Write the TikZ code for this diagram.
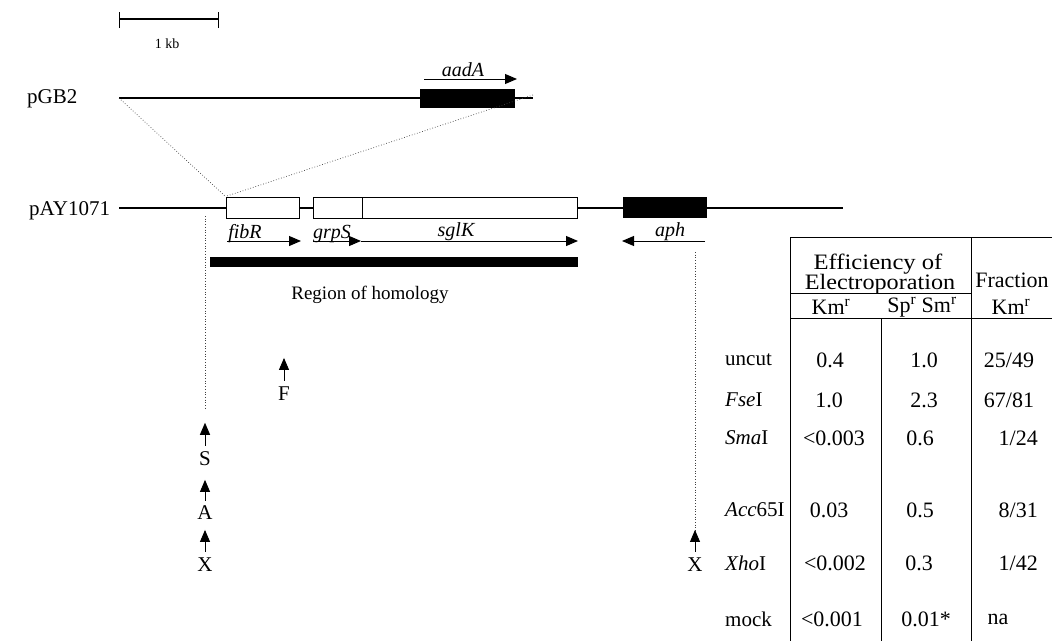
\documentclass[tikz,border=0pt]{standalone}
\usepackage{fontspec}
\usepackage{graphicx}
\setmainfont{Liberation Serif}
\usetikzlibrary{arrows.meta}
\begin{document}
\begin{tikzpicture}[x=1pt,y=-1pt,
  lab/.style={font=\fontsize{21}{21}\selectfont, inner sep=0pt},
  genelab/.style={font=\fontsize{20}{20}\selectfont\itshape, inner sep=0pt, anchor=base},
  tab/.style={font=\fontsize{22}{22}\selectfont, inner sep=0pt},
  rowlab/.style={font=\fontsize{21}{21}\selectfont, inner sep=0pt, anchor=west},
  dna/.style={line width=1.8pt},
  whitebox/.style={draw, fill=white, line width=1pt, inner sep=0pt},
  blackbox/.style={fill=black, inner sep=0pt},
  genearrow/.style={line width=1pt, -{Triangle[length=12pt,width=10pt]}},
  sitearrow/.style={line width=0.9pt, -{Triangle[length=12pt,width=10pt]}},
  dotline/.style={dotted, line width=0.7pt, black!75},
  tabline/.style={line width=0.8pt}
]
\useasboundingbox (0,0) rectangle (1052,641);
\fill[white] (0,0) rectangle (1052,641);

% scale bar
\coordinate (sb1) at (119,19);
\coordinate (sb2) at (218,19);
\draw[line width=1.8pt] (sb1) -- (sb2);
\draw[line width=1pt] ([yshift=-9pt]sb1) -- ([yshift=7pt]sb1);
\draw[line width=1pt] ([yshift=-9pt]sb2) -- ([yshift=7pt]sb2);
\node[font=\fontsize{14}{14}\selectfont, inner sep=0pt] (kb) at (167,44) {1 kb};

% pGB2
\node[lab, anchor=base west] (pgb) at (27,103) {pGB2};
\coordinate (g1) at (119,98);
\coordinate (g2) at (533,98);
\draw[dna] (g1) -- (g2);
\node[blackbox, minimum width=95pt, minimum height=19pt] (aadAbox) at (467.5,98.5) {};
\coordinate (aA1) at (424,79);
\coordinate (aA2) at (517,79);
\draw[genearrow] (aA1) -- (aA2);
\node[genelab] (aadA) at (463,76) {aadA};

% pAY1071
\node[lab, anchor=base west] (pay) at (29,215) {pAY1071};
\coordinate (p1) at (119,208);
\coordinate (p2) at (843,208);
\draw[dna] (p1) -- (p2);
\node[whitebox, minimum width=73pt, minimum height=21pt] (fibRbox) at (262.5,207.5) {};
\node[whitebox, minimum width=49pt, minimum height=21pt] (grpSbox) at (337.5,207.5) {};
\node[whitebox, minimum width=215pt, minimum height=21pt] (sglKbox) at (469.5,207.5) {};
\node[blackbox, minimum width=84pt, minimum height=21pt] (aphbox) at (665,207.5) {};

% insertion dotted lines
\draw[dotline] (g1) -- (fibRbox.north west);
\draw[dotline] ([yshift=3pt]g2) -- (fibRbox.north west);

% gene arrows and labels
\coordinate (fa1) at (227,241); \coordinate (fa2) at (301,241);
\coordinate (ga1) at (313,241); \coordinate (ga2) at (361,241);
\coordinate (sa1) at (361,241); \coordinate (sa2) at (578,241);
\coordinate (ha1) at (705,241); \coordinate (ha2) at (622,241);
\draw[genearrow] (fa1) -- (fa2);
\draw[genearrow] (ga1) -- (ga2);
\draw[genearrow] (sa1) -- (sa2);
\draw[genearrow] (ha1) -- (ha2);
\node[genelab] (fibR) at (245,238) {fibR};
\node[genelab] (grpS) at (332,238) {grpS};
\node[genelab] (sglK) at (456,236) {sglK};
\node[genelab] (aph) at (670,236) {aph};

% region of homology
\node[blackbox, minimum width=368pt, minimum height=10pt] (homol) at (394,262) {};
\node[font=\fontsize{19}{19}\selectfont, inner sep=0pt] (homlab) at (370,295) {Region of homology};

% dotted verticals
\coordinate (dl1) at (205,216); \coordinate (dl2) at (205,410);
\coordinate (dr1) at (695,252); \coordinate (dr2) at (695,550);
\draw[dotline] (dl1) -- (dl2);
\draw[dotline] (dr1) -- (dr2);

% site arrows
\node[lab] (F) at (284,394) {F};
\node[lab] (S) at (205,459) {S};
\node[lab] (A) at (205,513) {A};
\node[lab] (X1) at (205,565) {X};
\node[lab] (X2) at (695,565) {X};
\draw[sitearrow] ([yshift=6pt]F.north) -- ++(0,-23);
\draw[sitearrow] ([yshift=6pt]S.north) -- ++(0,-23);
\draw[sitearrow] ([yshift=5pt]A.north) -- ++(0,-21);
\draw[sitearrow] ([yshift=6pt]X1.north) -- ++(0,-22);
\draw[sitearrow] ([yshift=6pt]X2.north) -- ++(0,-22);

% table lines
\draw[tabline] (790,237) -- (1052,237);
\draw[tabline] (790,237) -- (790,641);
\draw[tabline] (971,237) -- (971,641);
\draw[tabline] (881,318) -- (881,641);
\draw[tabline] (790,293) -- (971,293);
\draw[tabline] (790,318) -- (1052,318);

% table header
\node[tab] (eff1) at (878,264) {\scalebox{1.12}[1]{Efficiency of}};
\node[tab] (eff2) at (880,284) {\scalebox{1.1}[1]{Electroporation}};
\node[tab] (frac) at (1012,280) {Fraction};
\node[tab] (hkm) at (831,307) {Km\textsuperscript{r}};
\node[tab] (hsp) at (922,307) {Sp\textsuperscript{r} Sm\textsuperscript{r}};
\node[tab] (hkm2) at (1011,307) {Km\textsuperscript{r}};

% rows
\node[rowlab] (r1) at (725,360) {uncut};
\node[tab] at (830,360) {0.4};
\node[tab] at (924,360) {1.0};
\node[tab] at (1009,360) {25/49};

\node[rowlab] (r2) at (725,400) {\textit{Fse}I};
\node[tab] at (829,400) {1.0};
\node[tab] at (924,400) {2.3};
\node[tab] at (1009,400) {67/81};

\node[rowlab] (r3) at (725,438) {\textit{Sma}I};
\node[tab] at (834,438) {<0.003};
\node[tab] at (920,438) {0.6};
\node[tab, anchor=east] at (1038,438) {1/24};

\node[rowlab] (r4) at (725,510) {\textit{Acc}65I};
\node[tab] at (829,510) {0.03};
\node[tab] at (920,510) {0.5};
\node[tab, anchor=east] at (1038,510) {8/31};

\node[rowlab] (r5) at (725,563) {\textit{Xho}I};
\node[tab] at (835,563) {<0.002};
\node[tab] at (919,563) {0.3};
\node[tab, anchor=east] at (1038,563) {1/42};

\node[rowlab] (r6) at (725,619) {mock};
\node[tab] at (832,619) {<0.001};
\node[tab] at (926,619) {0.01*};
\node[tab] at (998,619) {na};
\end{tikzpicture}
\end{document}
